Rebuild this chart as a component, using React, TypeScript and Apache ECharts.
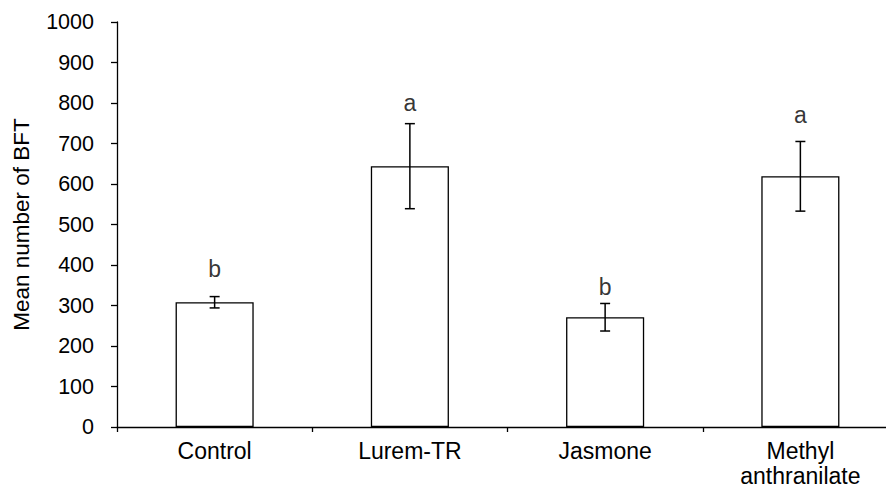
import React, { useEffect, useRef } from "react";
import * as echarts from "echarts";

const categories = ["Control", "Lurem-TR", "Jasmone", "Methyl\nanthranilate"];
const means = [308, 644, 271, 619];
const errors = [14, 105, 34, 86];
const letters = ["b", "a", "b", "a"];
const letterY = [389, 799, 346, 770];

const FONT = "'Liberation Sans', Arial, sans-serif";

export default function App() {
  const ref = useRef<HTMLDivElement>(null);
  useEffect(() => {
    if (!ref.current) return;
    const chart = echarts.init(ref.current, undefined, { renderer: "svg" });
    const errData = means.map((m, i) => [i, m - errors[i], m + errors[i]]);
    chart.setOption({
      animation: false,
      backgroundColor: "#fff",
      textStyle: { fontFamily: FONT, color: "#000" },
      grid: { left: 117, top: 22, bottom: 63, right: 0, containLabel: false, outerBoundsMode: "none" },
      xAxis: {
        type: "category",
        data: categories,
        boundaryGap: true,
        axisLine: { lineStyle: { color: "#000", width: 1.3 } },
        axisTick: { show: true, length: 5, lineStyle: { color: "#000", width: 1.3 } },
        axisLabel: { color: "#000", fontSize: 23, fontFamily: FONT, margin: 11, lineHeight: 25, interval: 0 },
        splitLine: { show: false },
      },
      yAxis: {
        type: "value",
        min: 0,
        max: 1000,
        interval: 100,
        name: "Mean number of BFT",
        nameLocation: "middle",
        nameGap: 84,
        nameTextStyle: { color: "#000", fontSize: 22.5, fontFamily: FONT },
        axisLine: { show: true, lineStyle: { color: "#000", width: 1.3 } },
        axisTick: { show: true, length: 6, lineStyle: { color: "#000", width: 1.3 } },
        axisLabel: { color: "#000", fontSize: 21.5, fontFamily: FONT, margin: 23, formatter: (v: number) => String(v) },
        splitLine: { show: false },
      },
      series: [
        {
          type: "bar",
          data: means,
          barWidth: "40%",
          itemStyle: { color: "#fff", borderColor: "#000", borderWidth: 1.3 },
        },
        {
          type: "custom",
          data: errData,
          renderItem: (params: any, api: any) => {
            const x = api.coord([api.value(0), 0])[0];
            const lo = api.coord([api.value(0), api.value(1)])[1];
            const hi = api.coord([api.value(0), api.value(2)])[1];
            const cap = 5;
            const style = { stroke: "#000", lineWidth: 1.5 };
            return {
              type: "group",
              children: [
                { type: "line", shape: { x1: x, y1: lo, x2: x, y2: hi }, style },
                { type: "line", shape: { x1: x - cap, y1: lo, x2: x + cap, y2: lo }, style },
                { type: "line", shape: { x1: x - cap, y1: hi, x2: x + cap, y2: hi }, style },
              ],
            };
          },
          z: 10,
        },
        {
          type: "scatter",
          symbolSize: 0,
          data: letterY.map((y, i) => [i, y]),
          label: {
            show: true,
            position: "inside",
            formatter: (p: any) => letters[p.dataIndex],
            color: "#000",
            fontSize: 23,
            fontFamily: FONT,
          },
        },
      ],
    });
    return () => chart.dispose();
  }, []);
  return (
    <div style={{ position: "fixed", left: 0, top: 0, width: 886, height: 490, overflow: "hidden", background: "#fff" }}>
      <div ref={ref} style={{ width: 898, height: 490 }} />
    </div>
  );
}
